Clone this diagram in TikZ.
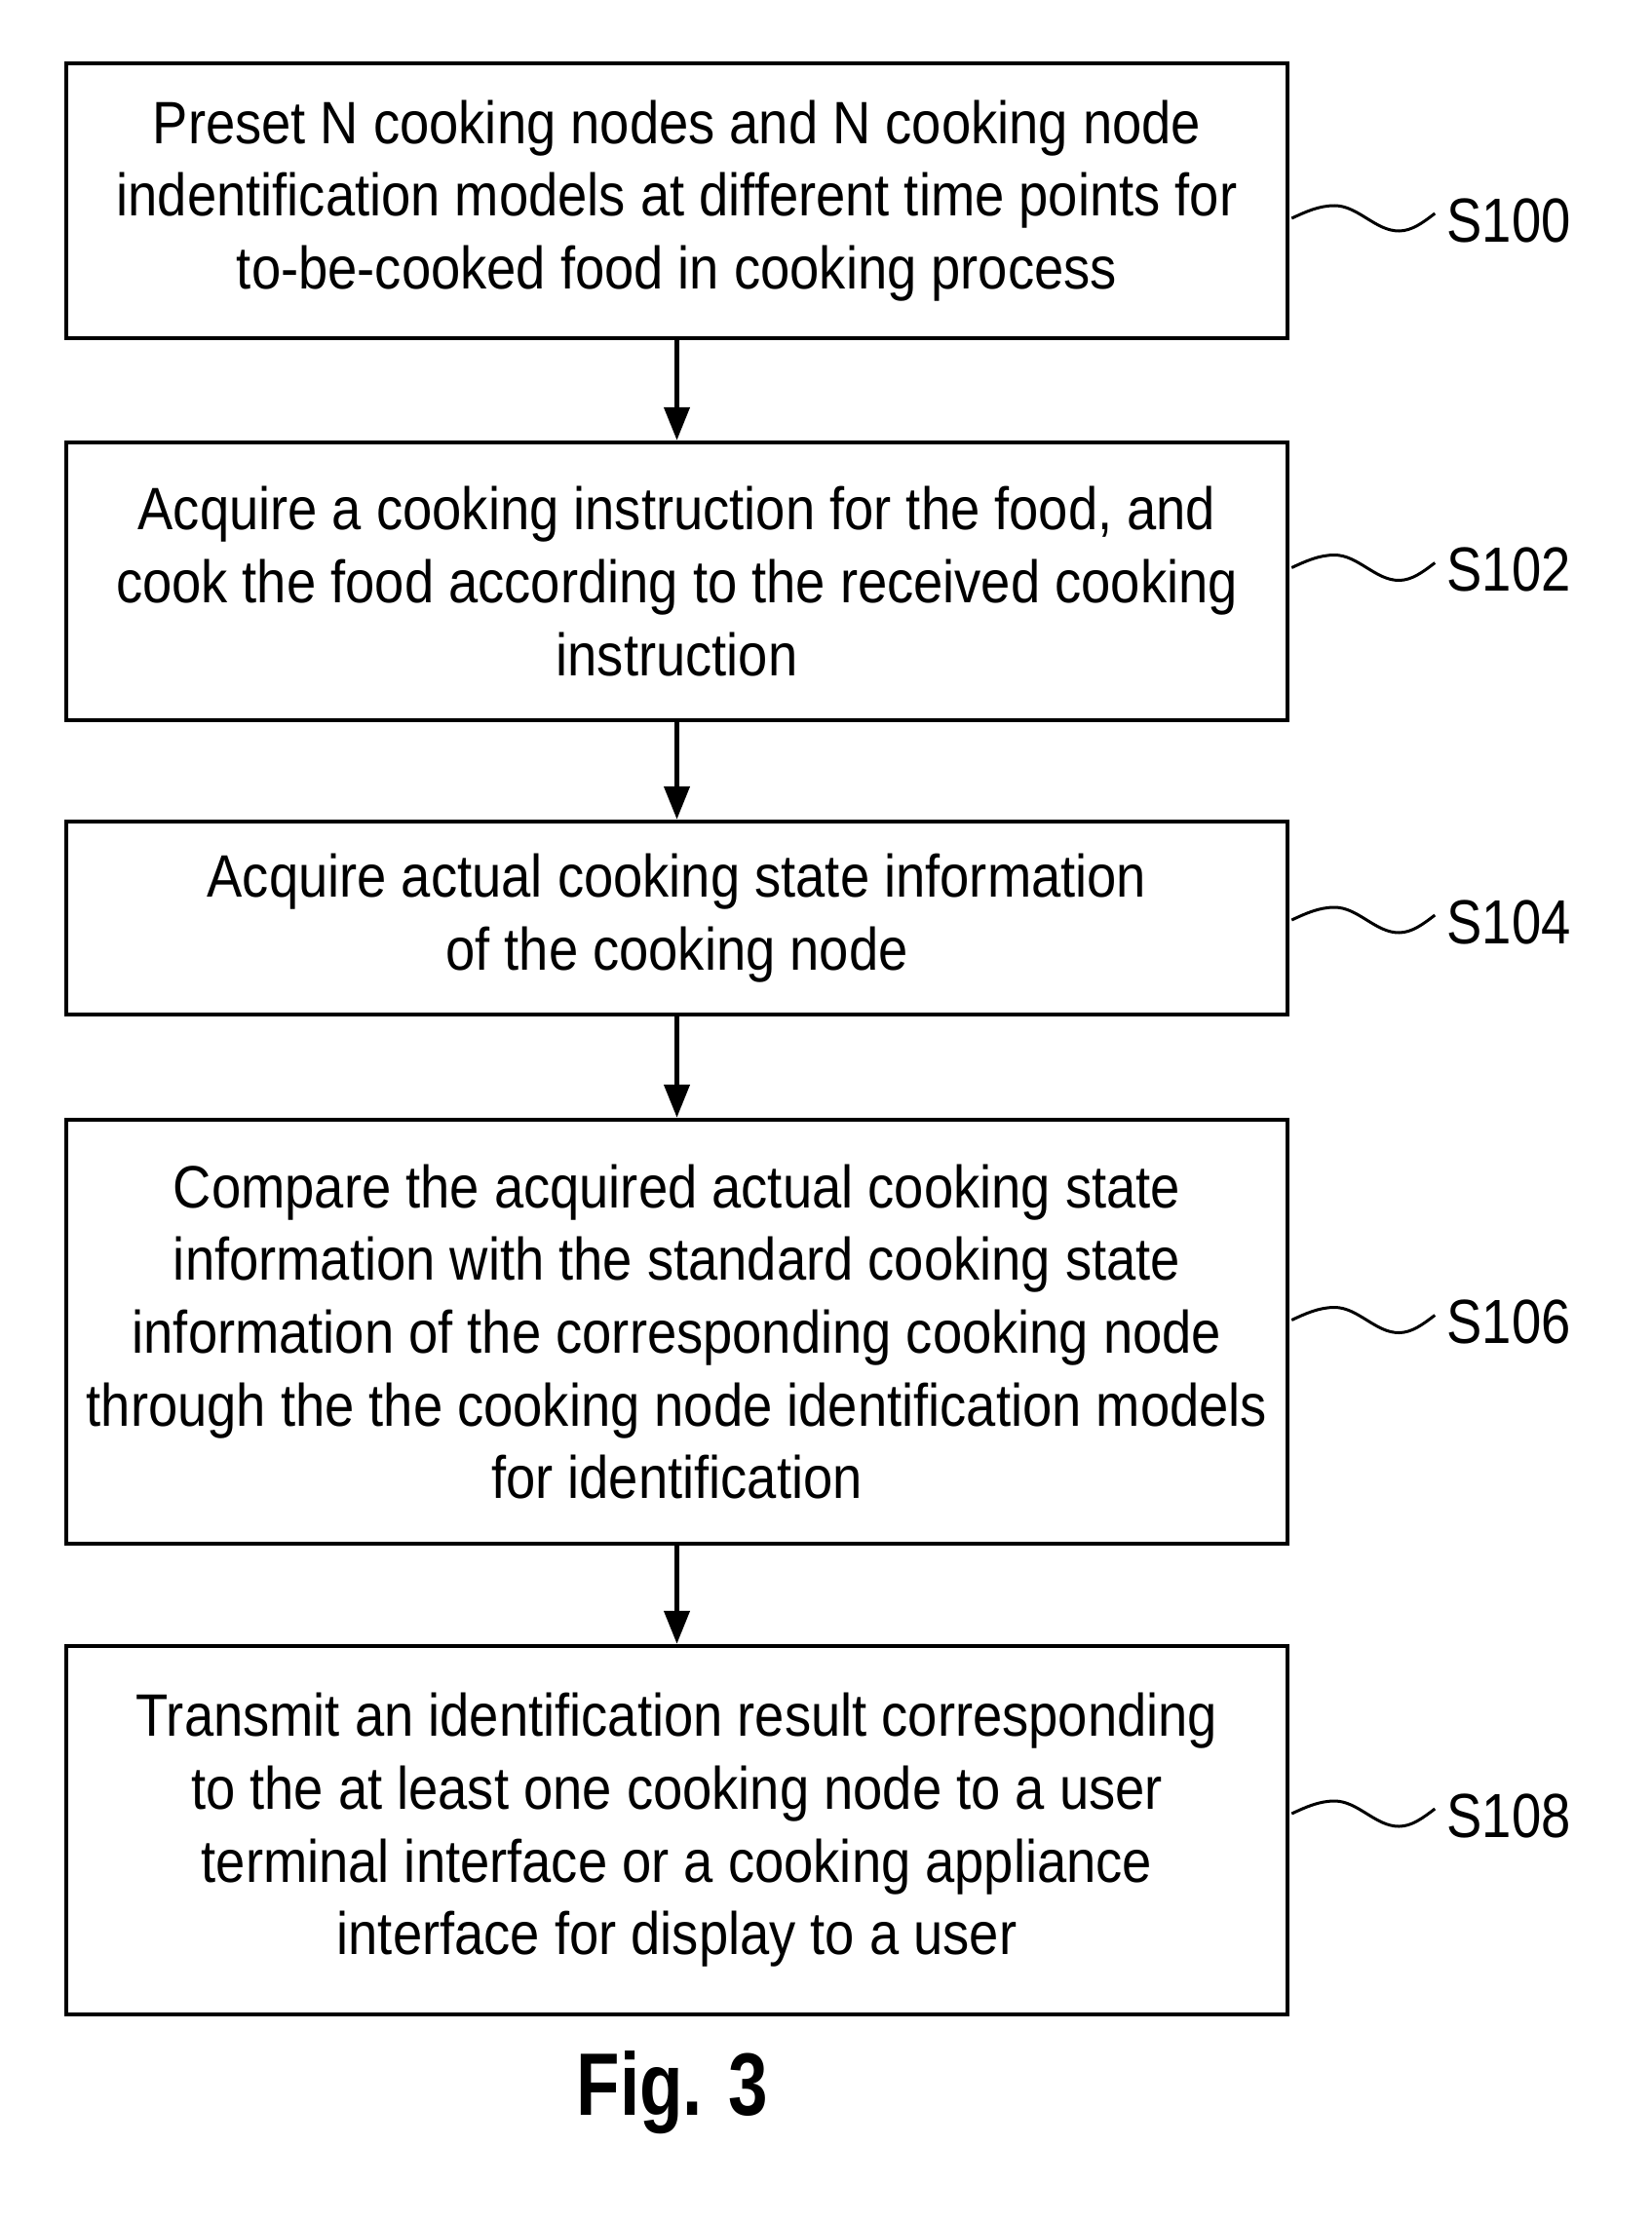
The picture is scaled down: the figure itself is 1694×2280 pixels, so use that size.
\documentclass[tikz,border=0pt]{standalone}
\usepackage{fontspec}
\setmainfont{Liberation Sans}[FakeStretch=0.8]
\newfontfamily\bodyfont{Liberation Sans}[FakeStretch=0.885]
\newfontfamily\labfont{Liberation Sans}[FakeStretch=0.85]
\usetikzlibrary{arrows.meta,calc}
\tikzset{
  stepbox/.style={draw, line width=2.25pt, minimum width=626.5pt, align=center,
    inner sep=0pt, font=\bodyfont\fontsize{30.7pt}{37.3pt}\selectfont},
  arr/.style={line width=2.25pt, -{Triangle[length=17pt,width=13pt]}},
  leader/.style={line width=1.5pt},
  lab/.style={anchor=west, inner sep=0pt, font=\labfont\fontsize{32pt}{38pt}\selectfont},
  figlab/.style={anchor=base, inner sep=0pt, font=\fontsize{45.5pt}{50pt}\selectfont\bfseries}
}
\begin{document}
\begin{tikzpicture}[x=0.5pt,y=-0.5pt]
\useasboundingbox (0,0) rectangle (1694,2280);
\node[stepbox, minimum height=141pt] (b1) at (694.5,206)
  {Preset N cooking nodes and N cooking node\\indentification models at different time points for\\to-be-cooked food in cooking process};
\node[stepbox, minimum height=142.5pt] (b2) at (694.5,596.5)
  {Acquire a cooking instruction for the food, and\\cook the food according to the received cooking\\instruction};
\node[stepbox, minimum height=99pt] (b3) at (694.5,942)
  {Acquire actual cooking state information\\of the cooking node};
\node[stepbox, minimum height=217.5pt] (b4) at (694.5,1366.5)
  {Compare the acquired actual cooking state\\information with the standard cooking state\\information of the corresponding cooking node\\through the the cooking node identification models\\for identification};
\node[stepbox, minimum height=189pt] (b5) at (694.5,1878)
  {Transmit an identification result corresponding\\to the at least one cooking node to a user\\terminal interface or a cooking appliance\\interface for display to a user};
\draw[arr] (b1.south) -- (b2.north);
\draw[arr] (b2.south) -- (b3.north);
\draw[arr] (b3.south) -- (b4.north);
\draw[arr] (b4.south) -- (b5.north);
\coordinate (w1) at ($(b1.east)+(2,18)$);
\coordinate (w2) at ($(b2.east)+(2,-14)$);
\coordinate (w3) at ($(b3.east)+(2,2)$);
\coordinate (w4) at ($(b4.east)+(2,-12)$);
\coordinate (w5) at ($(b5.east)+(2,-17)$);
\foreach \i in {1,...,5}{
  \draw[leader] (w\i) sin ++(44,-13) cos ++(33,13) sin ++(33,13) cos ++(37,-18) coordinate (e\i);
}
\node[lab] (s100) at ($(e1)+(12,7)$) {S100};
\node[lab] (s102) at ($(e2)+(12,7)$) {S102};
\node[lab] (s104) at ($(e3)+(12,7)$) {S104};
\node[lab] (s106) at ($(e4)+(12,7)$) {S106};
\node[lab] (s108) at ($(e5)+(12,7)$) {S108};
\node[figlab] (fig) at (690,2170) {Fig. 3};
\end{tikzpicture}
\end{document}
